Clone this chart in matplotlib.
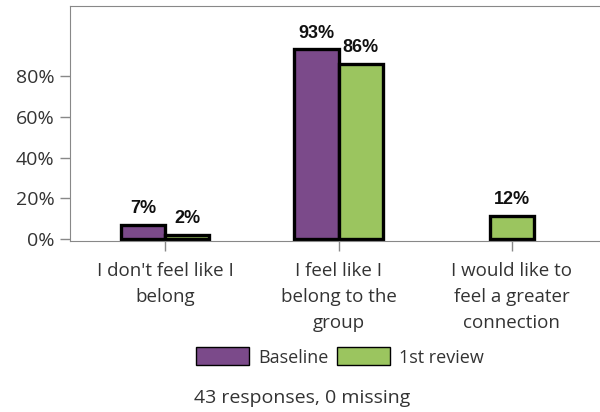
import numpy as np
import matplotlib
matplotlib.use("Agg")
import matplotlib.pyplot as plt
from matplotlib.patches import Patch

categories = ["I don't feel like I\nbelong", "I feel like I\nbelong to the\ngroup",
              "I would like to\nfeel a greater\nconnection"]
baseline = [6.98, 93.02, np.nan]
review = [2.33, 86.05, 11.63]
series_names = ["Baseline", "1st review"]
yticks = [0, 20, 40, 60, 80]

plt.rcParams['font.family'] = ["Open Sans", 'DejaVu Sans']

purple = "#7b4a8a"
green = "#9bc55f"
text_color = "#333333"

fig = plt.figure(figsize=(6, 4.12), dpi=100)
ax = fig.add_axes([70/600, 1-241.3/412, 537/600, (241.3-6)/412])

x = np.arange(len(categories))
w = 0.255
# bars of a group sit side by side, a lone bar is centred on its tick
for i in range(len(categories)):
    vals = [(v, c) for v, c in [(baseline[i], purple), (review[i], green)] if not np.isnan(v)]
    n = len(vals)
    for j, (v, c) in enumerate(vals):
        xi = x[i] + (j - (n - 1) / 2) * w
        ax.bar(xi, v, w, color=c, edgecolor="black", linewidth=2.4)
        ax.annotate(f"{v:.0f}%", (xi, v), xytext=(0, 5.5), textcoords="offset points",
                    ha="center", va="bottom", fontsize=13, fontweight="bold",
                    family="Liberation Sans", color="#111111")

ax.set_xlim(-0.55, 2.55)
ax.set_ylim(-1, 114.3)
ax.set_yticks(yticks)
ax.set_yticklabels([f"{t}%" for t in yticks], fontsize=14, color=text_color)
ax.set_xticks(x)
ax.set_xticklabels(categories, fontsize=13.5, color=text_color, linespacing=1.55)
ax.tick_params(axis="both", color="#888888", length=7, width=1)
ax.tick_params(axis="x", pad=8)
ax.tick_params(axis="y", pad=4)
for s in ["left", "top", "bottom"]:
    ax.spines[s].set_color("#888888")
ax.spines["right"].set_visible(False)

handles = [Patch(facecolor=purple, edgecolor="black", label=series_names[0]),
           Patch(facecolor=green, edgecolor="black", label=series_names[1])]
fig.legend(handles=handles, loc="center", bbox_to_anchor=(340/600, 1-357/412), ncol=2,
           frameon=False, fontsize=13, handlelength=2.9, handleheight=1.15,
           handletextpad=0.5, columnspacing=0.5, labelcolor=text_color)

fig.text(194/600, 1-398/412, "43 responses, 0 missing", fontsize=14, color=text_color,
         ha="left", va="center")

fig.savefig("out.png", dpi=100)
